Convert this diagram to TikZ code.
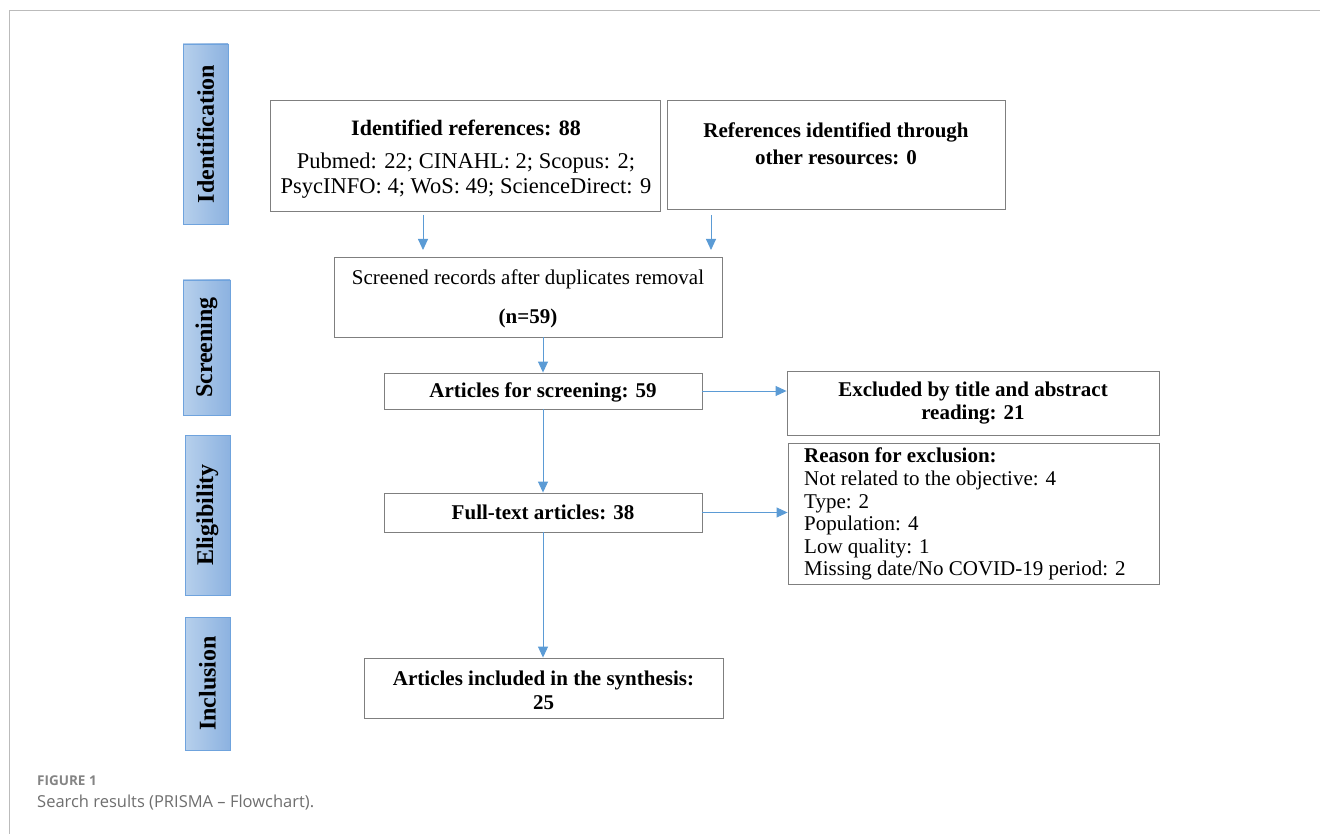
\documentclass[tikz,border=0pt]{standalone}
\usepackage{fontspec}
\setmainfont{Liberation Serif}
\newfontfamily\capfont{Open Sans}
\usetikzlibrary{arrows.meta}
\definecolor{boxgray}{HTML}{7F7F7F}
\definecolor{framegray}{HTML}{BBBBBB}
\definecolor{arrowblue}{HTML}{5B9BD5}
\definecolor{phaseL}{HTML}{B7D0EC}
\definecolor{phaseR}{HTML}{8CB2E0}
\definecolor{phaseborder}{HTML}{6FA3DD}
\definecolor{capgray}{HTML}{6E6E6E}
\begin{document}
\begin{tikzpicture}[x=1pt,y=-1pt,
  box/.style={draw=boxgray, line width=0.9pt, inner sep=0pt},
  txt/.style={inner sep=0pt, align=center, font=\fontsize{21}{24}\selectfont},
  btxt/.style={txt, font=\fontsize{21}{24}\selectfont\bfseries},
  phase/.style={draw=phaseborder, line width=0.8pt, left color=phaseL, right color=phaseR, inner sep=0pt, rotate=90, font=\fontsize{24}{26}\selectfont\bfseries},
  flow/.style={draw=arrowblue, line width=0.9pt, -{Triangle[width=10pt,length=11pt]}}]
\useasboundingbox (0,0) rectangle (1320,834);
\draw[framegray, line width=1pt] (9,834) -- (9,11) -- (1320,11);

% phase labels
\node[phase, minimum width=180, minimum height=45] (pid) at (205.5,134) {Identification};
\node[phase, minimum width=135, minimum height=47] (pscr) at (206.5,347.5) {Screening};
\node[phase, minimum width=160, minimum height=45] (pel) at (207.5,515) {Eligibility};
\node[phase, minimum width=133, minimum height=45] (pin) at (207.5,683.5) {Inclusion};

% boxes
\node[box, minimum width=390, minimum height=111] (ident) at (465,155.5) {};
\node[box, minimum width=338, minimum height=109] (other) at (836,154.5) {};
\node[box, minimum width=388, minimum height=80] (scrrec) at (528,297) {};
\node[box, minimum width=318, minimum height=36] (asr) at (543,391) {};
\node[box, minimum width=372, minimum height=64] (excl) at (973,403) {};
\node[box, minimum width=371, minimum height=141] (reason) at (973.5,513.5) {};
\node[box, minimum width=318, minimum height=39] (full) at (543,512.5) {};
\node[box, minimum width=359, minimum height=60] (incl) at (543.5,688) {};

% texts
\node[btxt, font=\fontsize{22}{25}\selectfont\bfseries] (t1) at (466,128) {Identified references: 88};
\node[txt, font=\fontsize{22.5}{25}\selectfont] (t2) at (466,176) {Pubmed: 22; CINAHL: 2; Scopus: 2;\\PsycINFO: 4; WoS: 49; ScienceDirect: 9};
\node[btxt, font=\fontsize{21}{27.5}\selectfont\bfseries] (t3) at (836,144) {References identified through\\other resources: 0};
\node[txt] (t4) at (528,279) {Screened records after duplicates removal};
\node[btxt] (t5) at (528,318) {(n=59)};
\node[btxt] (t6) at (543,392) {Articles for screening: 59};
\node[btxt, font=\fontsize{21}{23}\selectfont\bfseries] (t7) at (973,403) {Excluded by title and abstract\\reading: 21};
\node[txt, align=left, anchor=north west, font=\fontsize{21}{22.6}\selectfont] (t8) at (804,448) {\textbf{Reason for exclusion:}\\Not related to the objective: 4\\Type: 2\\Population: 4\\Low quality: 1\\Missing date/No COVID-19 period: 2};
\node[btxt] (t9) at (543,512.5) {Full-text articles: 38};
\node[btxt] (t10) at (543.5,690) {Articles included in the synthesis:\\25};

% arrows
\coordinate (a1s) at (423,215);
\coordinate (a1e) at (423,250);
\coordinate (a2s) at (711,215);
\coordinate (a2e) at (711,250);
\draw[flow] (a1s) -- (a1e);
\draw[flow] (a2s) -- (a2e);
\draw[flow] (scrrec.south -| asr.north) -- (asr.north);
\draw[flow] (asr.south) -- (full.north);
\draw[flow] (full.south) -- (incl.north -| full.south);
\draw[flow] (asr.east) -- (asr.east -| excl.west);
\draw[flow] (full.east) -- (full.east -| reason.west);

% caption
\node[anchor=west, inner sep=0pt, text=capgray!85, font=\capfont\bfseries\fontsize{13.5}{15}\selectfont] (fig) at (37,781) {FIGURE 1};
\node[anchor=west, inner sep=0pt, text=capgray, font=\capfont\fontsize{16.5}{19}\selectfont] (cap) at (37,803) {Search results (PRISMA – Flowchart).};
\end{tikzpicture}
\end{document}
